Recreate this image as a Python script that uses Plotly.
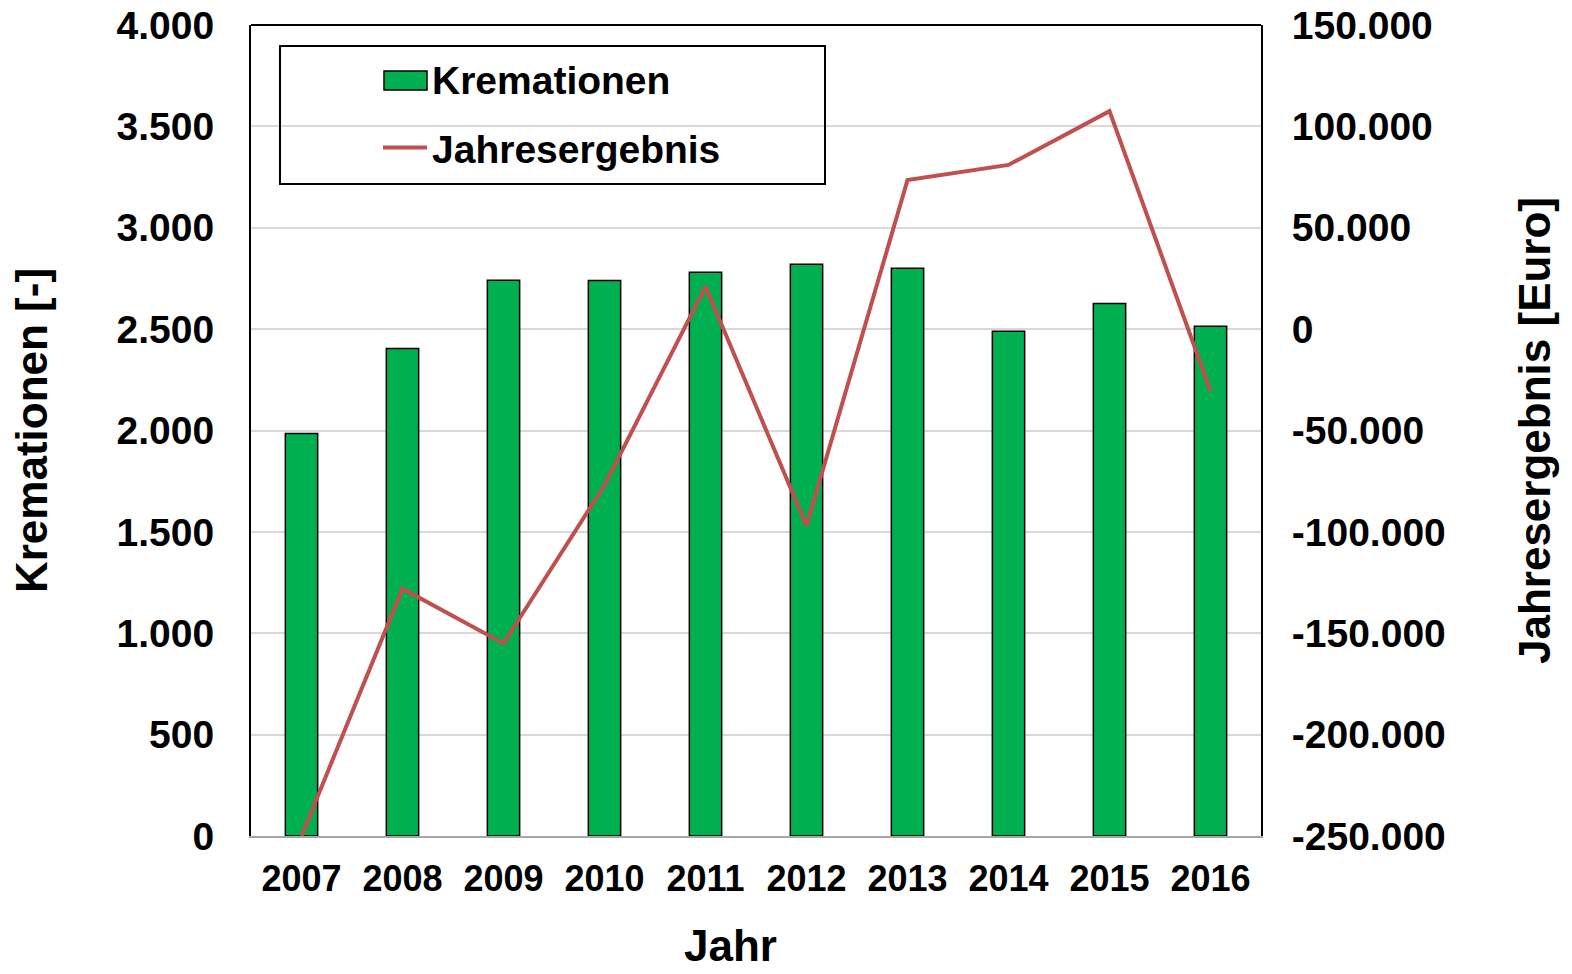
import plotly.graph_objects as go

years = ["2007", "2008", "2009", "2010", "2011", "2012", "2013", "2014", "2015", "2016"]
kremationen = [1985, 2405, 2741, 2740, 2780, 2820, 2800, 2489, 2627, 2514]
jahresergebnis = [-250000, -128000, -155000, -77000, 21000, -97000, 73500, 81000, 107500, -30500]

left_tickvals = [0, 500, 1000, 1500, 2000, 2500, 3000, 3500, 4000]
left_ticktext = ["0", "500", "1.000", "1.500", "2.000", "2.500", "3.000", "3.500", "4.000"]
right_tickvals = [-250000, -200000, -150000, -100000, -50000, 0, 50000, 100000, 150000]
right_ticktext = ["-250.000", "-200.000", "-150.000", "-100.000", "-50.000", "0", "50.000", "100.000", "150.000"]

FONT = "Liberation Sans"
ytickfont = dict(family=FONT, size=39, color="black", weight="bold")
xtickfont = dict(family=FONT, size=36, color="black", weight="bold")
titlefont = dict(family=FONT, size=44, color="black", weight="bold")

GREEN = "#00b050"
RED = "#c0504d"

fig = go.Figure()
fig.add_trace(go.Bar(
    x=years, y=kremationen, name="Kremationen",
    marker=dict(color=GREEN, line=dict(color="black", width=1.5)),
    showlegend=False, yaxis="y",
))
# legend entry for the bars (its swatch is drawn as a shape below)
fig.add_trace(go.Scatter(
    x=[None], y=[None], name="Kremationen", mode="markers",
    marker=dict(symbol="square", color=GREEN, size=6),
    legendgroup="a", yaxis="y",
))
fig.add_trace(go.Scatter(
    x=years, y=jahresergebnis, name="Jahresergebnis", mode="lines",
    line=dict(color=RED, width=4),
    legendgroup="b", yaxis="y2",
))

W, H = 1572, 974
# plot area in page pixels
L, R, T, B = 251, 1261, 25, 836
PW, PH = R - L, B - T

fig.update_layout(
    width=W, height=H,
    margin=dict(l=L, r=W - R, t=T, b=H - B),
    paper_bgcolor="white", plot_bgcolor="white",
    bargap=0.68,
    showlegend=True,
    legend=dict(
        x=(378 - L) / PW, y=(B - 47) / PH, xanchor="left", yanchor="top",
        bgcolor="rgba(0,0,0,0)", borderwidth=0,
        font=dict(family=FONT, size=39, color="black", weight="bold"),
        traceorder="grouped", tracegroupgap=15, itemwidth=44,
    ),
    xaxis=dict(
        type="category", automargin=False,
        showline=True, linecolor="#a6a6a6", linewidth=2,
        showgrid=False, ticks="",
        tickfont=xtickfont, ticklabelstandoff=10,
    ),
    yaxis=dict(
        range=[0, 4000], tickvals=left_tickvals, ticktext=left_ticktext,
        automargin=False,
        showgrid=True, gridcolor="#d9d9d9", gridwidth=1.5,
        showline=True, linecolor="black", linewidth=2,
        zeroline=False, ticks="",
        tickfont=ytickfont, ticklabelstandoff=27,
        title=dict(text="Kremationen [-]", font=titlefont, standoff=55),
    ),
    yaxis2=dict(
        range=[-250000, 150000], tickvals=right_tickvals, ticktext=right_ticktext,
        overlaying="y", side="right", automargin=False,
        showgrid=False, zeroline=False,
        showline=True, linecolor="black", linewidth=2,
        ticks="",
        tickfont=ytickfont, ticklabelstandoff=21,
        title=dict(text="Jahresergebnis [Euro]", font=titlefont, standoff=74),
    ),
    annotations=[
        dict(text="Jahr", xref="paper", yref="paper",
             x=(730 - L) / PW, y=(B - 945) / PH, xanchor="center", yanchor="middle",
             showarrow=False, font=titlefont),
    ],
    shapes=[
        dict(type="line", xref="paper", yref="paper", x0=0, x1=1, y0=1, y1=1,
             line=dict(color="black", width=2)),
        dict(type="rect", xref="paper", yref="paper",
             x0=(280 - L) / PW, x1=(825 - L) / PW,
             y0=(B - 184) / PH, y1=(B - 46) / PH,
             line=dict(color="black", width=2), fillcolor="rgba(0,0,0,0)"),
        dict(type="rect", xref="paper", yref="paper",
             x0=(384 - L) / PW, x1=(427 - L) / PW,
             y0=(B - 90) / PH, y1=(B - 71) / PH,
             line=dict(color="black", width=1.5), fillcolor=GREEN),
    ],
)

fig.write_html(
    "out.html",
    config={"displayModeBar": False},
    post_script="document.body.style.margin='0px';document.body.style.overflow='hidden';",
)
